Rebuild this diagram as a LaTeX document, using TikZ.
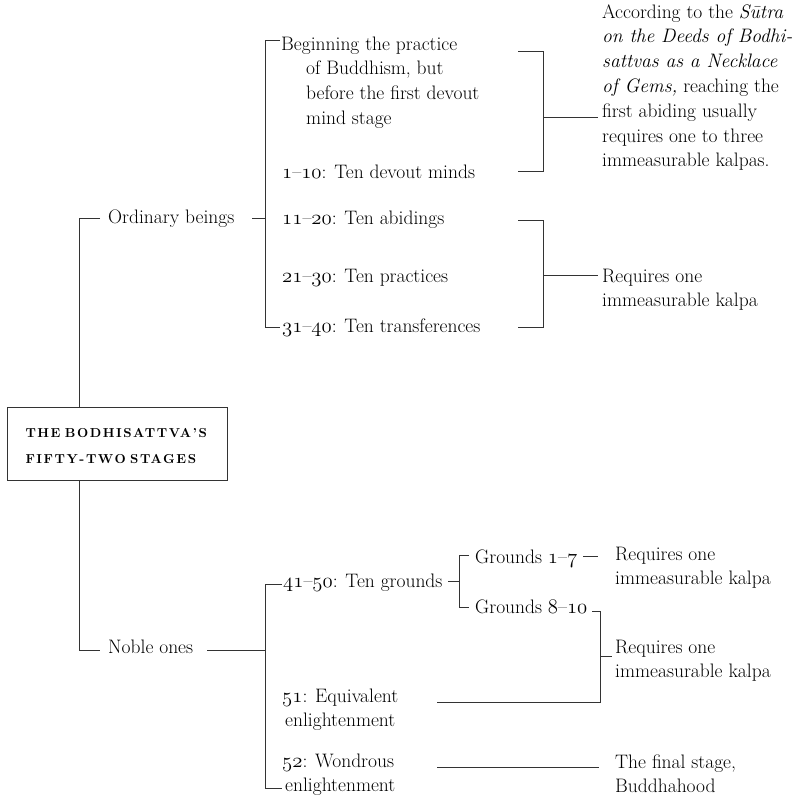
\documentclass[tikz,border=0pt]{standalone}
\usepackage{fontspec}
\newfontfamily\titlefont{lmroman10-bold}[Extension=.otf, LetterSpace=12]
\newcommand\osf[1]{{\fontencoding{OML}\fontfamily{cmm}\fontseries{m}\fontshape{it}\fontsize{20.74}{24.8}\selectfont #1}}
\newcommand\stk[1]{\begin{tabular}[t]{@{}l@{}}#1\end{tabular}}
\tikzset{
  ln/.style={draw=black!80, line width=0.9pt},
  txt/.style={anchor=base west, inner sep=0pt, text=black},
  titlebox/.style={draw=black!80, line width=0.9pt, fill=white, text width=184pt,
    minimum height=73pt, align=left, inner xsep=18pt, inner ysep=0pt, text=black,
    font=\titlefont\fontsize{13}{26}\selectfont}
}
\begin{document}
\begin{tikzpicture}[x=1pt, y=-1pt, font=\fontsize{19.5}{24.8}\selectfont]
\useasboundingbox (0,0) rectangle (800,801);

% title
\node[titlebox] (title) at (117.5,443.5) {\rule{0pt}{14pt}THE BODHISATTVA’S\\FIFTY-TWO STAGES};

% first level
\node[txt] (ord) at (108,223) {Ordinary beings};
\node[txt] (nob) at (108,653) {Noble ones};

% ordinary beings branch
\node[txt] (beg) at (281,50) {\stk{Beginning the practice\\
  \hspace*{25pt}of Buddhism, but\\
  \hspace*{25pt}before the first devout\\
  \hspace*{25pt}mind stage}};
\node[txt] (s1) at (282,178) {\osf{1}–\osf{10}: Ten devout minds};
\node[txt] (s2) at (282,224) {\osf{11}–\osf{20}: Ten abidings};
\node[txt] (s3) at (282,282) {\osf{21}–\osf{30}: Ten practices};
\node[txt] (s4) at (282,332) {\osf{31}–\osf{40}: Ten transferences};

\node[txt] (n1) at (602,18) {\stk{According to the \textit{Sūtra}\\
  \textit{on the Deeds of Bodhi-}\\
  \textit{sattvas as a Necklace}\\
  \textit{of Gems,} reaching the\\
  first abiding usually\\
  requires one to three\\
  immeasurable kalpas.}};
\node[txt] (n2) at (602,282) {\stk{Requires one\\immeasurable kalpa}};

% noble ones branch
\node[txt] (g) at (283,587) {\osf{41}–\osf{50}: Ten grounds};
\node[txt] (g17) at (475,563) {Grounds \osf{1}–\osf{7}};
\node[txt] (g810) at (475,613) {Grounds \osf{8}–\osf{10}};
\node[txt] (eq) at (282,702) {\stk{\osf{51}: Equivalent\\\hspace*{3pt}enlightenment}};
\node[txt] (won) at (282,767) {\stk{\osf{52}: Wondrous\\\hspace*{3pt}enlightenment}};
\node[txt] (n3) at (615,560) {\stk{Requires one\\immeasurable kalpa}};
\node[txt] (n4) at (615,653) {\stk{Requires one\\immeasurable kalpa}};
\node[txt] (n5) at (615,768) {\stk{The final stage,\\Buddhahood}};

% coordinates
\coordinate (ordL) at (100,218);
\coordinate (spT) at (79,218);
\coordinate (spB) at (79,650);
\coordinate (nobL) at (100,650);
\coordinate (ordR) at (252,218);
\coordinate (oT) at (265,40);
\coordinate (oTe) at (280,40);
\coordinate (oM) at (265,218);
\coordinate (oB) at (265,327);
\coordinate (oBe) at (280,327);
\coordinate (b1a) at (518,51);
\coordinate (b1b) at (543,51);
\coordinate (b1c) at (543,171);
\coordinate (b1d) at (518,171);
\coordinate (b1m) at (543,117);
\coordinate (b1e) at (598,117);
\coordinate (b2a) at (518,220);
\coordinate (b2b) at (543,220);
\coordinate (b2c) at (543,327);
\coordinate (b2d) at (518,327);
\coordinate (b2m) at (543,275);
\coordinate (b2e) at (598,275);
\coordinate (nobR) at (207,650);
\coordinate (nM) at (265,650);
\coordinate (nT) at (265,584);
\coordinate (nTe) at (282,584);
\coordinate (nB) at (265,788);
\coordinate (nBe) at (282,788);
\coordinate (gR) at (448,581);
\coordinate (gM) at (459,581);
\coordinate (gT) at (459,555);
\coordinate (gTe) at (469,555);
\coordinate (gB) at (459,607);
\coordinate (gBe) at (469,607);
\coordinate (t7a) at (583,556);
\coordinate (t7b) at (598,556);
\coordinate (k1) at (592,611);
\coordinate (k2) at (600,611);
\coordinate (k3) at (600,702);
\coordinate (k4) at (437,702);
\coordinate (km) at (600,656);
\coordinate (kme) at (612,656);
\coordinate (w1) at (437,767);
\coordinate (w2) at (599,767);

% connectors
\begin{scope}[ln]
\draw (ordL) -- (spT) -- (spT |- title.north);
\draw (spB |- title.south) -- (spB) -- (nobL);
\draw (ordR) -- (oM);
\draw (oTe) -- (oT) -- (oB) -- (oBe);
\draw (b1a) -- (b1b) -- (b1c) -- (b1d);
\draw (b1m) -- (b1e);
\draw (b2a) -- (b2b) -- (b2c) -- (b2d);
\draw (b2m) -- (b2e);
\draw (nobR) -- (nM);
\draw (nTe) -- (nT) -- (nB) -- (nBe);
\draw (gR) -- (gM);
\draw (gTe) -- (gT) -- (gB) -- (gBe);
\draw (t7a) -- (t7b);
\draw (k1) -- (k2) -- (k3) -- (k4);
\draw (km) -- (kme);
\draw (w1) -- (w2);
\end{scope}
\end{tikzpicture}
\end{document}
